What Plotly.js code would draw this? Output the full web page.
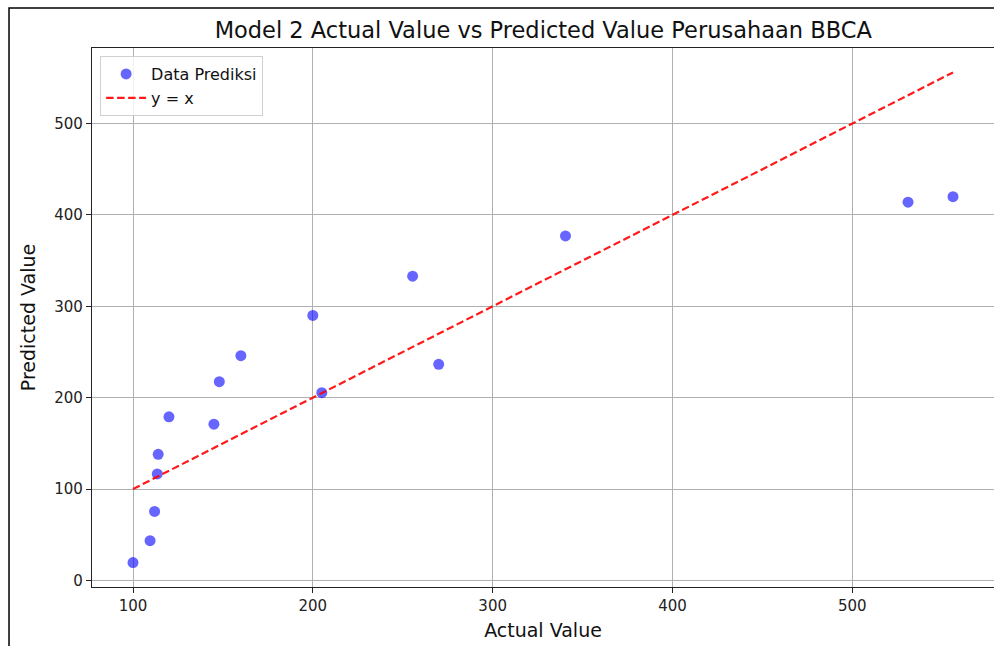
<!DOCTYPE html>
<html>
<head>
<meta charset="utf-8">
<script src="https://cdn.plot.ly/plotly-3.0.1.min.js"></script>
<style>body{margin:0;background:#fff}#chart{width:994px;height:646px}</style>
</head>
<body>
<div id="chart"></div>
<script>
const actualValues = [100, 109.5, 112, 113.5, 114, 120, 145, 148, 160, 200, 205, 255.5, 270, 340.5, 531, 556];
const predictedValues = [19.5, 43.5, 75.5, 116.5, 138, 179, 171, 217.5, 246, 290, 205.5, 333, 236.5, 377, 414, 420];
const lineX = [Math.min(...actualValues), Math.max(...actualValues)];
const lineY = lineX.slice();
const xTicks = [100, 200, 300, 400, 500];
const yTicks = [0, 100, 200, 300, 400, 500];

const font = "DejaVu Sans, sans-serif";
const traces = [
  {
    x: actualValues, y: predictedValues, type: 'scatter', mode: 'markers', name: 'Data Prediksi',
    marker: {color: 'rgba(0,0,255,0.6)', size: 11, line: {width: 0}}
  },
  {
    x: lineX, y: lineY, type: 'scatter', mode: 'lines', name: 'y = x',
    line: {color: 'rgba(255,0,0,0.9)', width: 2.2, dash: '7.5px,3.5px'}
  }
];
const axisCommon = {
  showline: true, mirror: true, linecolor: '#222', linewidth: 1.2,
  showgrid: true, gridcolor: '#b0b0b0', gridwidth: 1,
  zeroline: false, ticks: 'outside', ticklen: 5, tickcolor: '#222',
  tickfont: {family: font, size: 15, color: '#222'}
};
const layout = {
  width: 994, height: 646,
  margin: {l: 92, r: 0, t: 48, b: 59},
  paper_bgcolor: '#fff', plot_bgcolor: '#fff',
  title: {text: 'Model 2 Actual Value vs Predicted Value Perusahaan BBCA',
    font: {family: font, size: 22.5, color: '#111'}, x: 0.5465, xanchor: 'center', y: 0.953, yanchor: 'middle'},
  xaxis: Object.assign({}, axisCommon, {
    range: [77.2, 578.8], tickvals: xTicks, ticktext: xTicks.map(String),
    title: {text: 'Actual Value', font: {family: font, size: 19, color: '#111'}, standoff: 9}
  }),
  yaxis: Object.assign({}, axisCommon, {
    range: [-7.2, 582.7], tickvals: yTicks, ticktext: yTicks.map(String),
    title: {text: 'Predicted Value', font: {family: font, size: 19, color: '#111'}, standoff: 13}
  }),
  showlegend: true,
  legend: {x: 0.009, y: 0.985, xanchor: 'left', yanchor: 'top', itemwidth: 40,
    bgcolor: 'rgba(255,255,255,0.8)', bordercolor: '#d0d0d0', borderwidth: 1,
    font: {family: font, size: 16, color: '#111'}},
  shapes: [
    {type: 'rect', xref: 'paper', yref: 'paper', x0: -0.092, x1: 1.2, y0: -0.5, y1: 1.0743,
     line: {color: '#000', width: 1.5}, fillcolor: 'rgba(0,0,0,0)'}
  ]
};
Plotly.newPlot('chart', traces, layout, {displayModeBar: false});
</script>
</body>
</html>
